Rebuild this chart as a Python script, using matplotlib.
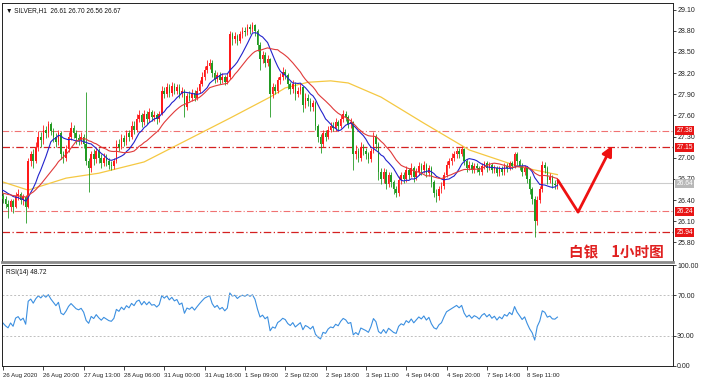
import numpy as np
import pandas as pd
import matplotlib
matplotlib.use("Agg")
import matplotlib.pyplot as plt
from matplotlib.transforms import blended_transform_factory

# ---------------- data ----------------
first_open = 26.45
closes = [
    26.42, 26.35, 26.30, 26.38, 26.30, 26.45, 26.48, 26.40, 26.44, 26.30,
    26.95, 27.05, 26.95, 27.15, 27.30, 27.25, 27.40, 27.35, 27.48, 27.38,
    27.30, 27.22, 27.35, 27.05, 27.00, 27.12, 27.30, 27.42, 27.35, 27.28,
    27.25, 27.30, 27.20, 26.95, 26.85, 27.05, 26.98, 27.10, 27.00, 26.92,
    27.00, 26.95, 26.90, 26.88, 26.95, 27.20, 27.15, 27.28, 27.22, 27.35,
    27.30, 27.45, 27.40, 27.55, 27.60, 27.50, 27.62, 27.55, 27.65, 27.58,
    27.60, 27.55, 27.62, 27.95, 27.90, 28.00, 27.92, 28.02, 27.95, 28.00,
    27.90, 27.95, 27.72, 27.88, 27.85, 27.92, 27.85, 27.95, 28.05, 28.15,
    28.25, 28.30, 28.35, 28.20, 28.12, 28.18, 28.10, 28.15, 28.08, 28.15,
    28.75, 28.68, 28.72, 28.65, 28.75, 28.80, 28.78, 28.85, 28.82, 28.88,
    28.80, 28.60, 28.40, 28.45, 28.35, 28.40, 27.90, 28.00, 27.95, 28.10,
    28.15, 28.22, 28.18, 28.05, 27.98, 28.05, 27.90, 27.95, 28.00, 27.75,
    27.85, 27.80, 27.72, 27.78, 27.45, 27.30, 27.20, 27.35, 27.30, 27.40,
    27.45, 27.42, 27.50, 27.45, 27.55, 27.62, 27.58, 27.48, 27.50, 27.05,
    27.10, 27.00, 27.15, 27.10, 27.05, 26.98, 27.10, 27.30, 27.20, 26.80,
    26.70, 26.80, 26.62, 26.75, 26.65, 26.55, 26.50, 26.68, 26.75, 26.70,
    26.82, 26.75, 26.85, 26.72, 26.80, 26.88, 26.82, 26.90, 26.78, 26.85,
    26.65, 26.50, 26.45, 26.55, 26.60, 26.75, 26.90, 26.95, 27.00, 27.05,
    27.10, 27.05, 27.12, 26.95, 26.85, 26.90, 26.82, 26.88, 26.85, 26.80,
    26.88, 26.92, 26.85, 26.90, 26.82, 26.86, 26.78, 26.84, 26.80, 26.88,
    26.85, 26.92, 26.88, 27.05, 26.95, 26.88, 26.80, 26.85, 26.70, 26.55,
    26.42, 26.10, 26.40, 26.55, 26.90, 26.85, 26.68, 26.72, 26.62, 26.61,
    26.67,
]
highs = [
    26.50, 26.46, 26.40, 26.42, 26.41, 26.52, 26.55, 26.52, 26.48, 26.47,
    27.00, 27.10, 27.12, 27.22, 27.38, 27.36, 27.46, 27.45, 27.52, 27.50,
    27.42, 27.35, 27.40, 27.38, 27.10, 27.18, 27.36, 27.50, 27.46, 27.40,
    27.34, 27.36, 27.34, 27.93, 27.00, 27.10, 27.12, 27.15, 27.14, 27.05,
    27.06, 27.05, 27.00, 26.96, 27.00, 27.25, 27.26, 27.33, 27.32, 27.40,
    27.40, 27.52, 27.52, 27.62, 27.68, 27.64, 27.68, 27.66, 27.70, 27.68,
    27.66, 27.64, 27.66, 28.02, 28.00, 28.06, 28.04, 28.08, 28.06, 28.05,
    28.04, 28.00, 27.98, 27.92, 27.94, 27.98, 27.96, 28.00, 28.10, 28.22,
    28.30, 28.38, 28.40, 28.38, 28.24, 28.22, 28.22, 28.20, 28.18, 28.20,
    28.80, 28.78, 28.78, 28.76, 28.80, 28.85, 28.86, 28.90, 28.90, 28.92,
    28.90, 28.82, 28.64, 28.52, 28.50, 28.46, 28.42, 28.06, 28.05, 28.15,
    28.20, 28.28, 28.26, 28.20, 28.08, 28.10, 28.08, 28.00, 28.06, 28.02,
    27.92, 27.90, 27.84, 27.82, 27.80, 27.48, 27.34, 27.40, 27.40, 27.45,
    27.50, 27.50, 27.56, 27.54, 27.60, 27.68, 27.66, 27.60, 27.56, 27.52,
    27.18, 27.14, 27.22, 27.20, 27.14, 27.08, 27.14, 27.36, 27.34, 27.22,
    26.86, 26.85, 26.84, 26.80, 26.80, 26.68, 26.60, 26.74, 26.80, 26.80,
    26.88, 26.86, 26.92, 26.88, 26.86, 26.94, 26.92, 26.95, 26.92, 26.90,
    26.88, 26.68, 26.55, 26.60, 26.65, 26.80, 26.95, 27.00, 27.06, 27.10,
    27.14, 27.14, 27.16, 27.14, 26.98, 26.95, 26.94, 26.92, 26.92, 26.88,
    26.92, 26.96, 26.95, 26.94, 26.93, 26.90, 26.88, 26.88, 26.88, 26.92,
    26.92, 26.96, 26.96, 27.08, 27.08, 26.98, 26.92, 26.90, 26.88, 26.74,
    26.58, 26.45, 26.45, 26.60, 26.95, 26.94, 26.88, 26.78, 26.75, 26.68,
    26.70,
]
lows = [
    26.36, 26.28, 26.15, 26.25, 26.22, 26.28, 26.40, 26.35, 26.33, 26.08,
    26.28, 26.88, 26.85, 26.92, 27.10, 27.15, 27.20, 27.28, 27.30, 27.32,
    27.22, 27.15, 27.18, 26.98, 26.92, 26.96, 27.08, 27.25, 27.28, 27.20,
    27.18, 27.20, 27.14, 26.90, 26.52, 26.80, 26.90, 26.92, 26.92, 26.85,
    26.88, 26.88, 26.84, 26.82, 26.84, 26.92, 27.10, 27.12, 27.16, 27.18,
    27.24, 27.26, 27.34, 27.36, 27.50, 27.44, 27.46, 27.48, 27.50, 27.52,
    27.52, 27.48, 27.50, 27.60, 27.84, 27.86, 27.86, 27.88, 27.90, 27.90,
    27.84, 27.86, 27.58, 27.68, 27.80, 27.80, 27.80, 27.82, 27.92, 28.02,
    28.10, 28.20, 28.26, 28.15, 28.06, 28.08, 28.05, 28.06, 28.03, 28.04,
    28.12, 28.60, 28.62, 28.60, 28.62, 28.70, 28.72, 28.74, 28.76, 28.78,
    28.72, 28.52, 28.24, 28.34, 28.28, 28.30, 27.58, 27.85, 27.90, 27.92,
    28.05, 28.10, 28.12, 27.98, 27.90, 27.92, 27.82, 27.86, 27.90, 27.65,
    27.70, 27.74, 27.66, 27.66, 27.40, 27.22, 27.07, 27.15, 27.24, 27.26,
    27.36, 27.38, 27.38, 27.40, 27.42, 27.50, 27.52, 27.42, 27.42, 26.82,
    26.98, 26.94, 26.96, 27.04, 26.98, 26.92, 26.94, 27.06, 27.12, 26.68,
    26.62, 26.64, 26.55, 26.58, 26.58, 26.48, 26.44, 26.46, 26.62, 26.64,
    26.66, 26.70, 26.72, 26.66, 26.68, 26.76, 26.76, 26.78, 26.72, 26.74,
    26.58, 26.44, 26.37, 26.40, 26.50, 26.56, 26.72, 26.86, 26.90, 26.96,
    27.00, 27.00, 27.02, 26.90, 26.80, 26.82, 26.78, 26.78, 26.80, 26.75,
    26.76, 26.84, 26.80, 26.82, 26.78, 26.78, 26.74, 26.74, 26.76, 26.76,
    26.80, 26.82, 26.84, 26.85, 26.90, 26.82, 26.74, 26.76, 26.64, 26.48,
    26.35, 25.87, 26.05, 26.36, 26.52, 26.78, 26.62, 26.64, 26.57, 26.56,
    26.56,
]
# slow moving average (yellow), read at a few bars
slow_ma_idx = [0, 10, 25, 38, 56, 73, 90, 106, 112, 121, 130, 137, 150, 167, 185, 205, 220]
slow_ma_val = [26.655, 26.54, 26.71, 26.78, 26.94, 27.25, 27.56, 27.86, 27.99, 28.07,
               28.09, 28.06, 27.86, 27.49, 27.11, 26.87, 26.76]
fast_ma_start = 26.55
mid_ma_start = 26.50
level_lines = [27.38, 27.15, 26.24, 25.94]
level_strong = [False, True, False, True]
bid_price = 26.64
price_ticks = [29.10, 28.80, 28.50, 28.20, 27.90, 27.60, 27.30, 27.00, 26.70, 26.40, 26.10, 25.80]
rsi_ticks = [100, 70, 30, 0]
date_idx = [0, 16, 32, 48, 64, 80, 96, 112, 128, 144, 160, 176, 192, 208]
date_labels = ["26 Aug 2020", "26 Aug 20:00", "27 Aug 13:00", "28 Aug 06:00", "31 Aug 00:00",
               "31 Aug 16:00", "1 Sep 09:00", "2 Sep 02:00", "2 Sep 18:00", "3 Sep 11:00",
               "4 Sep 04:00", "4 Sep 20:00", "7 Sep 14:00", "8 Sep 11:00"]
header = "▼ SILVER,H1  26.61 26.70 26.56 26.67"
rsi_header = "RSI(14) 48.72"
title_cn = "白银    1小时图"

# ---------------- derived indicators ----------------
c = pd.Series(closes)
o = pd.Series([first_open] + closes[:-1])
x = np.arange(len(closes))
ma_fast = pd.concat([pd.Series([fast_ma_start] * 9), c]).rolling(10).mean().iloc[9:].reset_index(drop=True)
ma_mid = pd.concat([pd.Series([mid_ma_start] * 19), c]).rolling(20).mean().iloc[19:].reset_index(drop=True)
ag, al = 0.035, 0.045
rsi = []
prev = first_open
for v in closes:
    dv = v - prev
    ag = (ag * 13 + max(dv, 0)) / 14
    al = (al * 13 + max(-dv, 0)) / 14
    rsi.append(100 - 100 / (1 + ag / al))
    prev = v

# ---------------- figure ----------------
SMALL = ["Liberation Sans", "DejaVu Sans"]
W, H = 704, 381
fig = plt.figure(figsize=(W / 100, H / 100), dpi=100)
fig.patch.set_facecolor("white")
L, R = 2, 673
ax = fig.add_axes([L / W, 1 - 262 / H, (R - L) / W, (262 - 3) / H])
axr = fig.add_axes([L / W, 1 - 366 / H, (R - L) / W, (366 - 265) / H], sharex=ax)

ax.set_xlim((L - 3) / 2.52, (R - 3) / 2.52)
ax.set_ylim(27 + (157.7 - 262) / 70.5, 27 + (157.7 - 3) / 70.5)
axr.set_ylim(0, 100)

RED = "#ff1a1a"
GREEN = "#229a22"
for lv, strong in zip(level_lines, level_strong):
    ax.axhline(lv, color="#d42020" if strong else "#f07272", lw=0.9 if strong else 0.8,
               ls=(0, (6, 2, 1, 2)), zorder=1)
ax.axhline(bid_price, color="#cccccc", lw=0.8, zorder=1)

for i in x:
    oo, cc = o[i], c[i]
    col = RED if cc >= oo else GREEN
    ax.vlines(i, lows[i], highs[i], color=col, lw=0.6, zorder=3)
    h = max(abs(cc - oo), 0.012)
    ax.bar(i, h, bottom=min(oo, cc), width=0.62, color=col, lw=0, zorder=3)

ax.plot(x, ma_fast, color="#2222cc", lw=0.8, zorder=4)
ax.plot(x, ma_mid, color="#e03a3a", lw=0.8, zorder=4)
ax.plot(slow_ma_idx, slow_ma_val, color="#f5c842", lw=0.9, zorder=2)

ax.plot([220.2, 228.2], [26.68, 26.23], color="#ee1111", lw=2, solid_capstyle="round", zorder=5)
ax.annotate("", xy=(241.7, 27.17), xytext=(228.2, 26.23),
            arrowprops=dict(arrowstyle="-|>,head_length=0.6,head_width=0.3", color="#ee1111", lw=2,
                            shrinkA=0, shrinkB=0), zorder=5)

ax.text(0.006, 0.985, header, transform=ax.transAxes, fontsize=4.7, va="top", ha="left",
        color="#111", family=SMALL)
ax.text(0.986, 0.008, title_cn, transform=ax.transAxes, fontsize=10.5, va="bottom", ha="right",
        color="#e02020", fontweight="bold", family=["Noto Sans CJK SC", "DejaVu Sans"])

for a in (ax, axr):
    a.yaxis.tick_right()
    a.tick_params(axis="y", direction="out", length=2, width=0.6, labelsize=5, pad=1, colors="#222")
    for s in a.spines.values():
        s.set_linewidth(0.7)
        s.set_color("#222")
ax.set_yticks(price_ticks)
ax.set_yticklabels([f"{t:.2f}" for t in price_ticks], family=SMALL)
ax.tick_params(axis="x", bottom=False, labelbottom=False)
ax.spines["bottom"].set_color("#8a8a8a")
ax.spines["bottom"].set_linewidth(2)

tr = blended_transform_factory(ax.transAxes, ax.transData)
for lv in level_lines:
    ax.text(1.005, lv, f"{lv:.2f}", transform=tr, fontsize=4.8, color="white", va="center", ha="left",
            family=SMALL, bbox=dict(boxstyle="square,pad=0.15", fc="#e81515", ec="none"),
            zorder=6, clip_on=False)
ax.text(1.005, bid_price, f"{bid_price:.2f}", transform=tr, fontsize=4.8, color="white", va="center",
        ha="left", family=SMALL, bbox=dict(boxstyle="square,pad=0.15", fc="#b8b8b8", ec="none"),
        zorder=6, clip_on=False)

axr.plot(x, rsi, color="#3b8fe0", lw=0.8)
for lv in (70, 30):
    axr.axhline(lv, color="#c0c0c0", lw=0.7, ls=(0, (2, 2)))
axr.set_yticks(rsi_ticks)
axr.set_yticklabels([f"{t:.2f}" for t in rsi_ticks], family=SMALL)
axr.text(0.006, 0.96, rsi_header, transform=axr.transAxes, fontsize=4.7, va="top", ha="left",
         color="#111", family=SMALL)
axr.set_xticks(date_idx)
axr.set_xticklabels(date_labels, ha="left", family=SMALL)
axr.tick_params(axis="x", direction="out", length=3, width=0.6, labelsize=4.4, pad=2, colors="#222")

fig.savefig("out.png", dpi=100)
